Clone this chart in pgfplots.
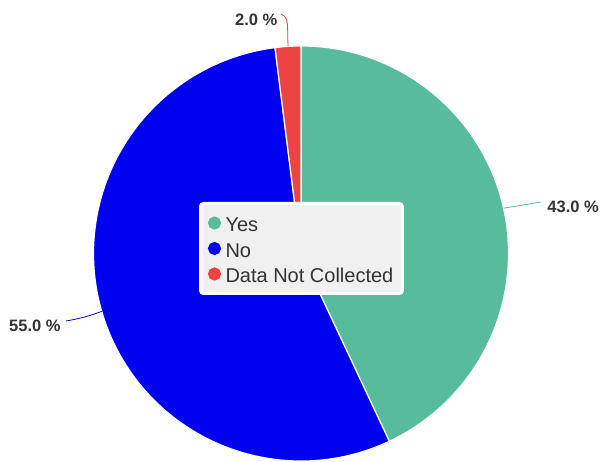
\documentclass[border=0pt]{standalone}
\usepackage{fontspec}
\setmainfont{Liberation Sans}
\usepackage{pgfplots}
\pgfplotsset{compat=1.18}
\definecolor{cyes}{RGB}{86,188,155}
\definecolor{cno}{RGB}{0,0,240}
\definecolor{cdnc}{RGB}{237,67,67}
\definecolor{lab}{RGB}{51,51,51}
\definecolor{legbg}{RGB}{240,240,240}
% data (percent)
\def\pYes{43.0}
\def\pNo{55.0}
\def\pDnc{2.0}
\pgfmathsetmacro\aA{90}
\pgfmathsetmacro\aB{\aA-3.6*\pYes}
\pgfmathsetmacro\aC{\aB-3.6*\pNo}
\pgfmathsetmacro\aD{\aC-3.6*\pDnc}
\pgfmathsetmacro\mA{(\aA+\aB)/2}
\pgfmathsetmacro\mB{(\aB+\aC)/2}
\pgfmathsetmacro\mC{(\aC+\aD)/2}
\def\R{207.5pt}
\begin{document}
\begin{tikzpicture}
\begin{axis}[
  width=600pt, height=462pt, scale only axis,
  xmin=0, xmax=600, ymin=0, ymax=462,
  hide axis, clip=false,
  legend cell align=left,
  legend style={at={(axis cs:199,260)}, anchor=north west, fill=legbg, draw=white,
    line width=3pt, rounded corners=3pt, text=lab,
    font=\fontsize{20}{22}\selectfont, row sep=0.5pt,
    inner xsep=7.5pt, inner ysep=7pt,
    nodes={inner sep=1.5pt, text height=20pt, text depth=2pt}},
]
\addlegendimage{cyes, legend image code/.code={\fill (5pt,0pt) circle (5pt); \path (13pt,0pt);}}
\addlegendentry{Yes}
\addlegendimage{cno, legend image code/.code={\fill (5pt,0pt) circle (5pt); \path (13pt,0pt);}}
\addlegendentry{No}
\addlegendimage{cdnc, legend image code/.code={\fill (5pt,0pt) circle (5pt); \path (13pt,0pt);}}
\addlegendentry{Data Not Collected}

\fill[cyes, draw=white, line width=1.2pt] (axis cs:301,208.5) -- ([shift={(\aA:\R)}]axis cs:301,208.5) arc[start angle=\aA, end angle=\aB, radius=\R] -- cycle;
\fill[cno, draw=white, line width=1.2pt] (axis cs:301,208.5) -- ([shift={(\aB:\R)}]axis cs:301,208.5) arc[start angle=\aB, end angle=\aC, radius=\R] -- cycle;
\fill[cdnc, draw=white, line width=1.2pt] (axis cs:301,208.5) -- ([shift={(\aC:\R)}]axis cs:301,208.5) arc[start angle=\aC, end angle=\aD, radius=\R] -- cycle;

\draw[cyes, line width=0.8pt] ([shift={(\mA:\R)}]axis cs:301,208.5) -- (axis cs:541,260);
\draw[cno, line width=0.8pt] ([shift={(\mB:\R)}]axis cs:301,208.5) to[bend left=5] (axis cs:66,141);
\draw[cdnc, line width=0.8pt] ([shift={(\mC:\R)}]axis cs:301,208.5) -- (axis cs:287.6,434) to[out=90,in=-20] (axis cs:281,448);

\node[anchor=east, inner sep=0pt, text=lab, font=\bfseries\fontsize{16.5}{20}\selectfont] at (axis cs:599,255) {43.0 \%};
\node[anchor=west, inner sep=0pt, text=lab, font=\bfseries\fontsize{16.5}{20}\selectfont] at (axis cs:9,136) {55.0 \%};
\node[anchor=west, inner sep=0pt, text=lab, font=\bfseries\fontsize{16.5}{20}\selectfont] at (axis cs:235,442) {2.0 \%};
\end{axis}
\pgfresetboundingbox
\useasboundingbox (current axis.south west) rectangle (current axis.north east);
\end{tikzpicture}
\end{document}
